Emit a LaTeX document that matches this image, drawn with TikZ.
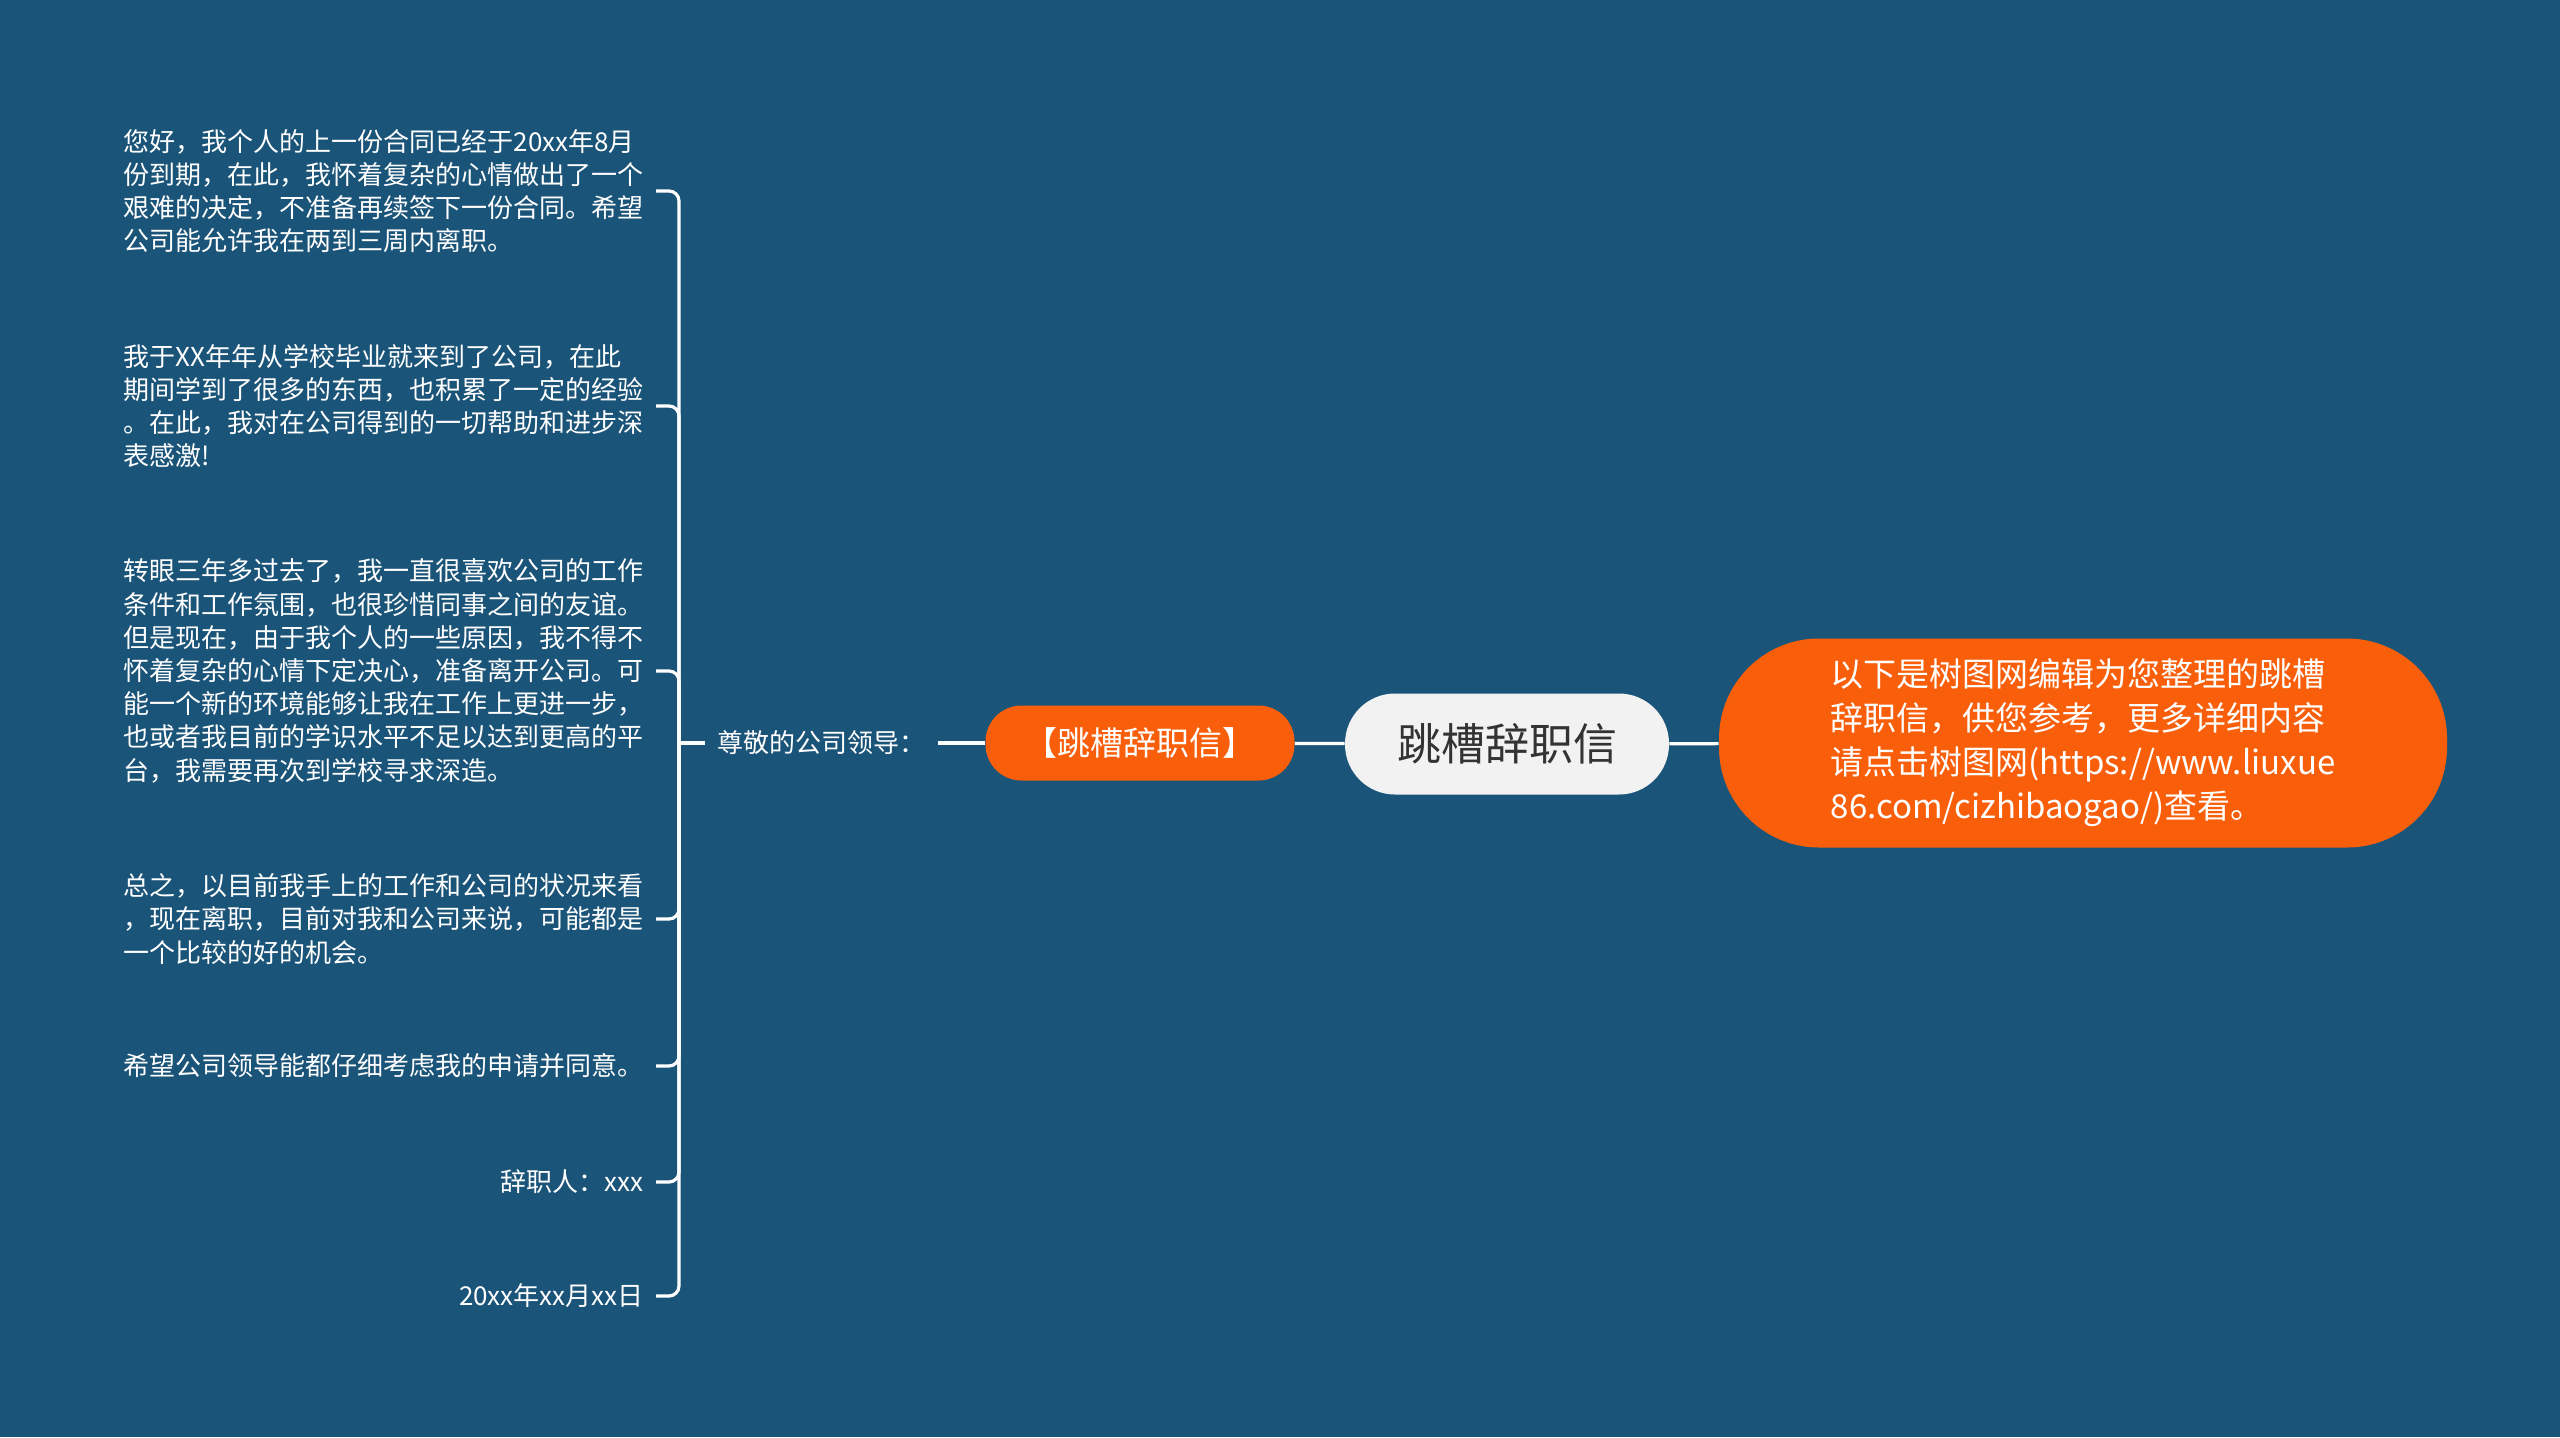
\documentclass[tikz,border=0pt]{standalone}
\usepackage{fontspec}
\newfontfamily\cjk{Noto Sans CJK SC}
\definecolor{bgblue}{HTML}{1B5479}
\definecolor{mapor}{HTML}{F95F0A}
\definecolor{rootgray}{HTML}{F2F2F2}
\definecolor{rootink}{HTML}{333333}

\begin{document}
\begin{tikzpicture}[x=0.5pt, y=-0.5pt,
  every node/.style={font=\cjk, inner sep=0pt},
  link/.style={draw=white, line width=1.6pt},
  branch/.style={link, rounded corners=5pt},
  rootbox/.style={fill=rootgray, text=rootink, rounded corners=25pt,
    minimum width=162pt, minimum height=50.5pt, font=\cjk\fontsize{22}{26}\selectfont},
  titlebox/.style={fill=mapor, text=white, rounded corners=18pt,
    minimum width=154.5pt, minimum height=37.5pt, font=\cjk\fontsize{16.5}{22}\selectfont},
  notebox/.style={fill=mapor, text=white, rounded corners=50pt, align=left,
    minimum width=364pt, minimum height=104.5pt, font=\cjk\fontsize{16.5}{22}\selectfont},
  leaf/.style={text=white, inner sep=6pt, font=\cjk\fontsize{13}{16.6}\selectfont},
  para/.style={leaf, anchor=east, align=left, text width=260pt}]

% --- background ---
\fill[bgblue] (0,0) rectangle (2560,1437);
\useasboundingbox (0,0) rectangle (2560,1437);

% --- centre ---
\node[rootbox] (root) at (1507,744) {跳槽辞职信};
\node[titlebox] (title) at (1140,743) {【跳槽辞职信】};
\node[notebox] (note) at (2083,743) {以下是树图网编辑为您整理的跳槽\\
辞职信，供您参考，更多详细内容\\
请点击树图网(https://www.liuxue\\
86.com/cizhibaogao/)查看。};
\node[leaf, anchor=west] (greet) at (705,743) {尊敬的公司领导：};
\coordinate (fork) at (679,743);

% --- letter ---
\node[para] (p1) at (656,191) {您好，我个人的上一份合同已经于20xx年8月\\
份到期，在此，我怀着复杂的心情做出了一个\\
艰难的决定，不准备再续签下一份合同。希望\\
公司能允许我在两到三周内离职。};
\node[para] (p2) at (656,406) {我于XX年年从学校毕业就来到了公司，在此\\
期间学到了很多的东西，也积累了一定的经验\\
。在此，我对在公司得到的一切帮助和进步深\\
表感激!};
\node[para] (p3) at (656,671) {转眼三年多过去了，我一直很喜欢公司的工作\\
条件和工作氛围，也很珍惜同事之间的友谊。\\
但是现在，由于我个人的一些原因，我不得不\\
怀着复杂的心情下定决心，准备离开公司。可\\
能一个新的环境能够让我在工作上更进一步，\\
也或者我目前的学识水平不足以达到更高的平\\
台，我需要再次到学校寻求深造。};
\node[para] (p4) at (656,919) {总之，以目前我手上的工作和公司的状况来看\\
，现在离职，目前对我和公司来说，可能都是\\
一个比较的好的机会。};
\node[para] (p5) at (656,1066) {希望公司领导能都仔细考虑我的申请并同意。};
\node[leaf, anchor=east] (p6) at (656,1182) {辞职人：xxx};
\node[leaf, anchor=east] (p7) at (656,1296) {20xx年xx月xx日};

% --- connectors ---
\draw[link] (root) -- (note);
\draw[link] (root) -- (title);
\draw[link] (title) -- (greet);
\draw[link] (greet) -- (fork);
\foreach \leafname in {p1,p2,p3,p4,p5,p6,p7}
  \draw[branch] (fork) |- (\leafname.east);

\end{tikzpicture}
\end{document}
